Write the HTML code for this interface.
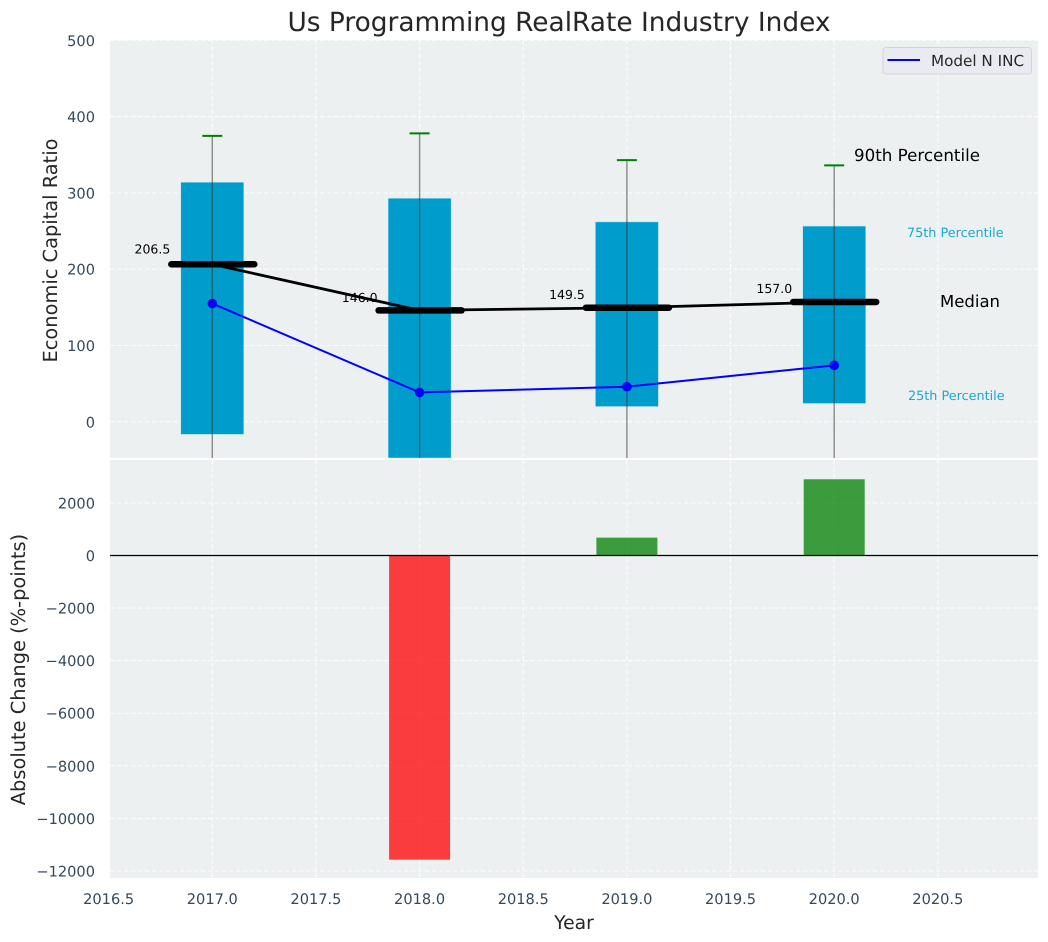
<!DOCTYPE html>
<html>
<head>
<meta charset="utf-8">
<title>Us Programming RealRate Industry Index</title>
<style>
html,body{margin:0;padding:0;background:#fff;}
svg{display:block;font-family:"DejaVu Sans","Liberation Sans",sans-serif;text-rendering:geometricPrecision;}
</style>
</head>
<body>
<svg id="chart" xmlns="http://www.w3.org/2000/svg" width="1048" height="942" viewBox="0 0 1048 942">
  <rect x="0" y="0" width="1048" height="942" fill="#ffffff"/>
  <rect x="110" y="40" width="928" height="418" fill="#ecf0f1"/>
  <rect x="110" y="460" width="928" height="418" fill="#ecf0f1"/>
  <g id="grid"></g>
  <g id="top"></g>
  <g id="bottom"></g>
  <g id="ticks"></g>
  <text x="559" y="31" text-anchor="middle" font-size="26.4" fill="#262626">Us Programming RealRate Industry Index</text>
  <text transform="translate(57,250.5) rotate(-90)" text-anchor="middle" font-size="19.4" fill="#262626">Economic Capital Ratio</text>
  <text transform="translate(25,669.5) rotate(-90)" text-anchor="middle" font-size="19.4" fill="#262626">Absolute Change (%-points)</text>
  <text x="574" y="929" text-anchor="middle" font-size="18.8" fill="#262626">Year</text>
  <text x="854" y="161" font-size="16.7" fill="#000000">90th Percentile</text>
  <text x="907" y="237" font-size="12.8" fill="#1ba6d3">75th Percentile</text>
  <text x="940" y="307" font-size="16.5" fill="#000000">Median</text>
  <text x="908" y="400" font-size="12.8" fill="#1ba6d3">25th Percentile</text>
  <g>
    <rect x="883" y="47.5" width="148.5" height="26.5" rx="3" fill="#eaeaf2" stroke="#d4d4d8" stroke-width="1"/>
    <line x1="887.5" y1="60" x2="920" y2="60" stroke="#0000ff" stroke-width="2"/>
    <text x="931" y="66" font-size="15.2" fill="#262626">Model N INC</text>
  </g>
</svg>
<script>
const years = [2017, 2018, 2019, 2020];
const p90 = [374.7, 378, 343, 336];
const p75 = [314, 293, 262, 256.5];
const medians = [206.5, 146.0, 149.5, 157.0];
const p25 = [-16.5, -60, 20, 24];
const p10 = [-120, -150, -90, -100];
const modelN = [155, 38.5, 46, 74];
const absChange = [0, -11570, 680, 2900];
const xTicks = [2016.5, 2017, 2017.5, 2018, 2018.5, 2019, 2019.5, 2020, 2020.5];
const topYTicks = [0, 100, 200, 300, 400, 500];
const bottomYTicks = [2000, 0, -2000, -4000, -6000, -8000, -10000, -12000];

const NS = 'http://www.w3.org/2000/svg';
const xScale = v => 212.3 + (v - 2017) * 207.3;
const yTop = v => 421.8 - v * 0.763;
const yBottom = v => 555.5 - v * 0.02629;
const TOP_MIN = 40, TOP_MAX = 458;
const clampTop = p => Math.max(TOP_MIN, Math.min(TOP_MAX, p));

function make(parent, tag, attrs, text) {
  const el = document.createElementNS(NS, tag);
  for (const k in attrs) el.setAttribute(k, attrs[k]);
  if (text !== undefined) el.textContent = text;
  parent.appendChild(el);
  return el;
}
const gridG = document.getElementById('grid');
const topG = document.getElementById('top');
const bottomG = document.getElementById('bottom');
const ticksG = document.getElementById('ticks');
const gridStyle = {stroke: '#ffffff', 'stroke-width': 1.1, 'stroke-opacity': 0.85, 'stroke-dasharray': '4.5 2.5', fill: 'none'};

xTicks.forEach(t => {
  const x = xScale(t);
  let el = make(gridG, 'line', Object.assign({x1: x, x2: x, y1: 40, y2: 458}, gridStyle));
  
  
  el = make(gridG, 'line', Object.assign({x1: x, x2: x, y1: 460, y2: 878}, gridStyle));
  
  
  el = make(ticksG, 'text', {x: x, y: 904, 'text-anchor': 'middle', 'font-size': 14.6, fill: '#34495e'}, t.toFixed(1));
  
  
});
topYTicks.forEach(t => {
  const y = yTop(t);
  let el = make(gridG, 'line', Object.assign({x1: 110, x2: 1038, y1: y, y2: y}, gridStyle));
  
  
  el = make(ticksG, 'text', {x: 95, y: y + 5.5, 'text-anchor': 'end', 'font-size': 14.6, fill: '#34495e'}, String(t));
  
  
});
bottomYTicks.forEach(t => {
  const y = yBottom(t);
  let el = make(gridG, 'line', Object.assign({x1: 110, x2: 1038, y1: y, y2: y}, gridStyle));
  
  
  el = make(ticksG, 'text', {x: 95, y: y + 5.5, 'text-anchor': 'end', 'font-size': 14.6, fill: '#34495e'}, String(t).replace('-', '\u2212'));
  
  
});

years.forEach((yr, i) => {
  const x = xScale(yr);
  const half = 31.5;
  const yA = clampTop(yTop(p75[i]));
  const yB = clampTop(yTop(p25[i]));
  const box = make(topG, 'rect', {x: x - half, y: yA, width: half * 2, height: yB - yA, fill: '#009ccc', stroke: '#bfe6f2', 'stroke-width': 0.5});
  
  
});

const medPts = years.map((yr, i) => xScale(yr) + ',' + yTop(medians[i])).join(' ');
const medLine = make(topG, 'polyline', {points: medPts, fill: 'none', stroke: '#000000', 'stroke-width': 2.8});



const modelPts = years.map((yr, i) => xScale(yr) + ',' + yTop(modelN[i])).join(' ');
const modelLine = make(topG, 'polyline', {points: modelPts, fill: 'none', stroke: '#0000ff', 'stroke-width': 2});



years.forEach((yr, i) => {
  const x = xScale(yr);
  const whisker = make(topG, 'line', {x1: x, x2: x, y1: yTop(p90[i]), y2: clampTop(yTop(p10[i])), stroke: '#333333', 'stroke-opacity': 0.55, 'stroke-width': 1.4});
  
  

  const cap = make(topG, 'line', {x1: x - 10, x2: x + 10, y1: yTop(p90[i]), y2: yTop(p90[i]), stroke: '#008000', 'stroke-width': 2});
  
  

  const med = make(topG, 'line', {x1: x - 41, x2: x + 42, y1: yTop(medians[i]), y2: yTop(medians[i]), stroke: '#000000', 'stroke-width': 6.5, 'stroke-linecap': 'round'});
  
  

  const lbl = make(topG, 'text', {x: x - 42, y: yTop(medians[i] * 1.05) - 3, 'text-anchor': 'end', 'font-size': 12.5, fill: '#000000'}, medians[i].toFixed(1));
  
  

  const dot = make(topG, 'circle', {cx: x, cy: yTop(modelN[i]), r: 4.8, fill: '#0000ff'});
  
  

  if (absChange[i] !== 0) {
    const y0 = yBottom(0), y1 = yBottom(absChange[i]);
    const bar = make(bottomG, 'rect', {x: x - 30.5, y: Math.min(y0, y1), width: 61, height: Math.abs(y1 - y0), fill: absChange[i] < 0 ? '#ff0000' : '#008000', 'fill-opacity': 0.75});
    
    
  }
});
const zero = make(bottomG, 'line', {x1: 110, x2: 1038, y1: yBottom(0), y2: yBottom(0), stroke: '#000000', 'stroke-width': 1.2});


</script>
</body>
</html>
